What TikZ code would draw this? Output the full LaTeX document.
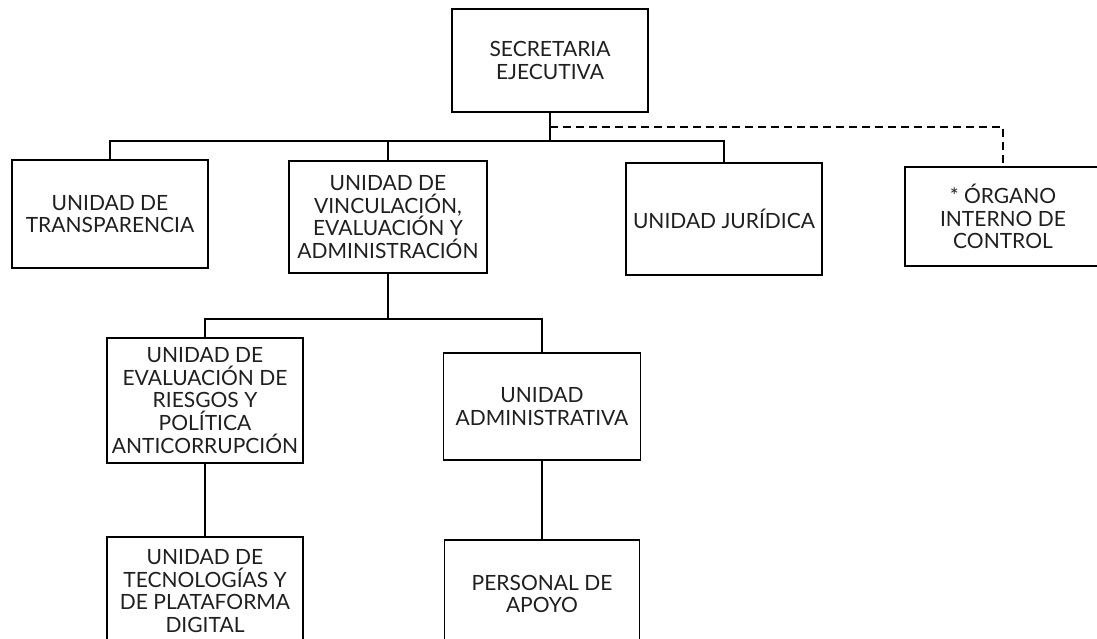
\documentclass[tikz,border=0pt]{standalone}
\usepackage{fontspec}
\setmainfont{Lato}
\tikzset{unit/.style={draw, line width=1.2pt, align=center, minimum width=196pt, inner sep=0pt,
                      font=\fontsize{21}{22.7}\selectfont, text=black!88},
         link/.style={line width=1.8pt},
         dashlink/.style={line width=1.6pt, dash pattern=on 8pt off 5pt}}

\begin{document}
\begin{tikzpicture}[x=1pt,y=-1pt]
  \useasboundingbox (0,0) rectangle (1097,639);
  \clip (0,0) rectangle (1097,639);
  \node[unit, minimum height=103pt] (sec)   at ( 550.0, 60.5) {SECRETARIA\\EJECUTIVA};
  \node[unit, minimum height=108pt] (trans) at ( 110.0,214.0) {UNIDAD DE\\TRANSPARENCIA};
  \node[unit, minimum height=112pt, minimum width=198pt] (vinc) at ( 388.0,217.0)
       {UNIDAD DE\\VINCULACIÓN,\\EVALUACIÓN Y\\ADMINISTRACIÓN};
  \node[unit, minimum height=112pt] (jur)   at ( 724.0,219.0) {UNIDAD JURÍDICA};
  \node[unit, minimum height=99pt]  (oic)   at (1003.0,216.5) {* ÓRGANO\\INTERNO DE\\CONTROL};
  \node[unit, minimum height=125pt] (eval)  at ( 205.0,400.5)
       {UNIDAD DE\\EVALUACIÓN DE\\RIESGOS Y\\POLÍTICA\\ANTICORRUPCIÓN};
  \node[unit, minimum height=107pt, minimum width=197pt] (admin) at ( 542.0,406.5) {UNIDAD\\ADMINISTRATIVA};
  \node[unit, minimum height=108pt] (tec)   at ( 205.0,591.0) {UNIDAD DE\\TECNOLOGÍAS Y\\DE PLATAFORMA\\DIGITAL};
  \node[unit, minimum height=108pt, minimum width=195pt] (pers) at ( 542.0,594.0) {PERSONAL DE\\APOYO};

  \coordinate (bus)  at (550,141);
  \coordinate (tap)  at (550,127);
  \coordinate (bus2) at (388,319);
  \draw[link] (sec.south) -- (bus);
  \draw[link] (trans.north) |- (bus) -| (jur.north);
  \draw[link] (vinc.north) -- (vinc.north |- bus);
  \draw[dashlink] (tap) -| (oic.north);
  \draw[link] (vinc.south) -- (bus2);
  \draw[link] (eval.north) |- (bus2) -| (admin.north);
  \draw[link] (eval.south) -- (tec.north);
  \draw[link] (admin.south) -- (pers.north);
\end{tikzpicture}
\end{document}
